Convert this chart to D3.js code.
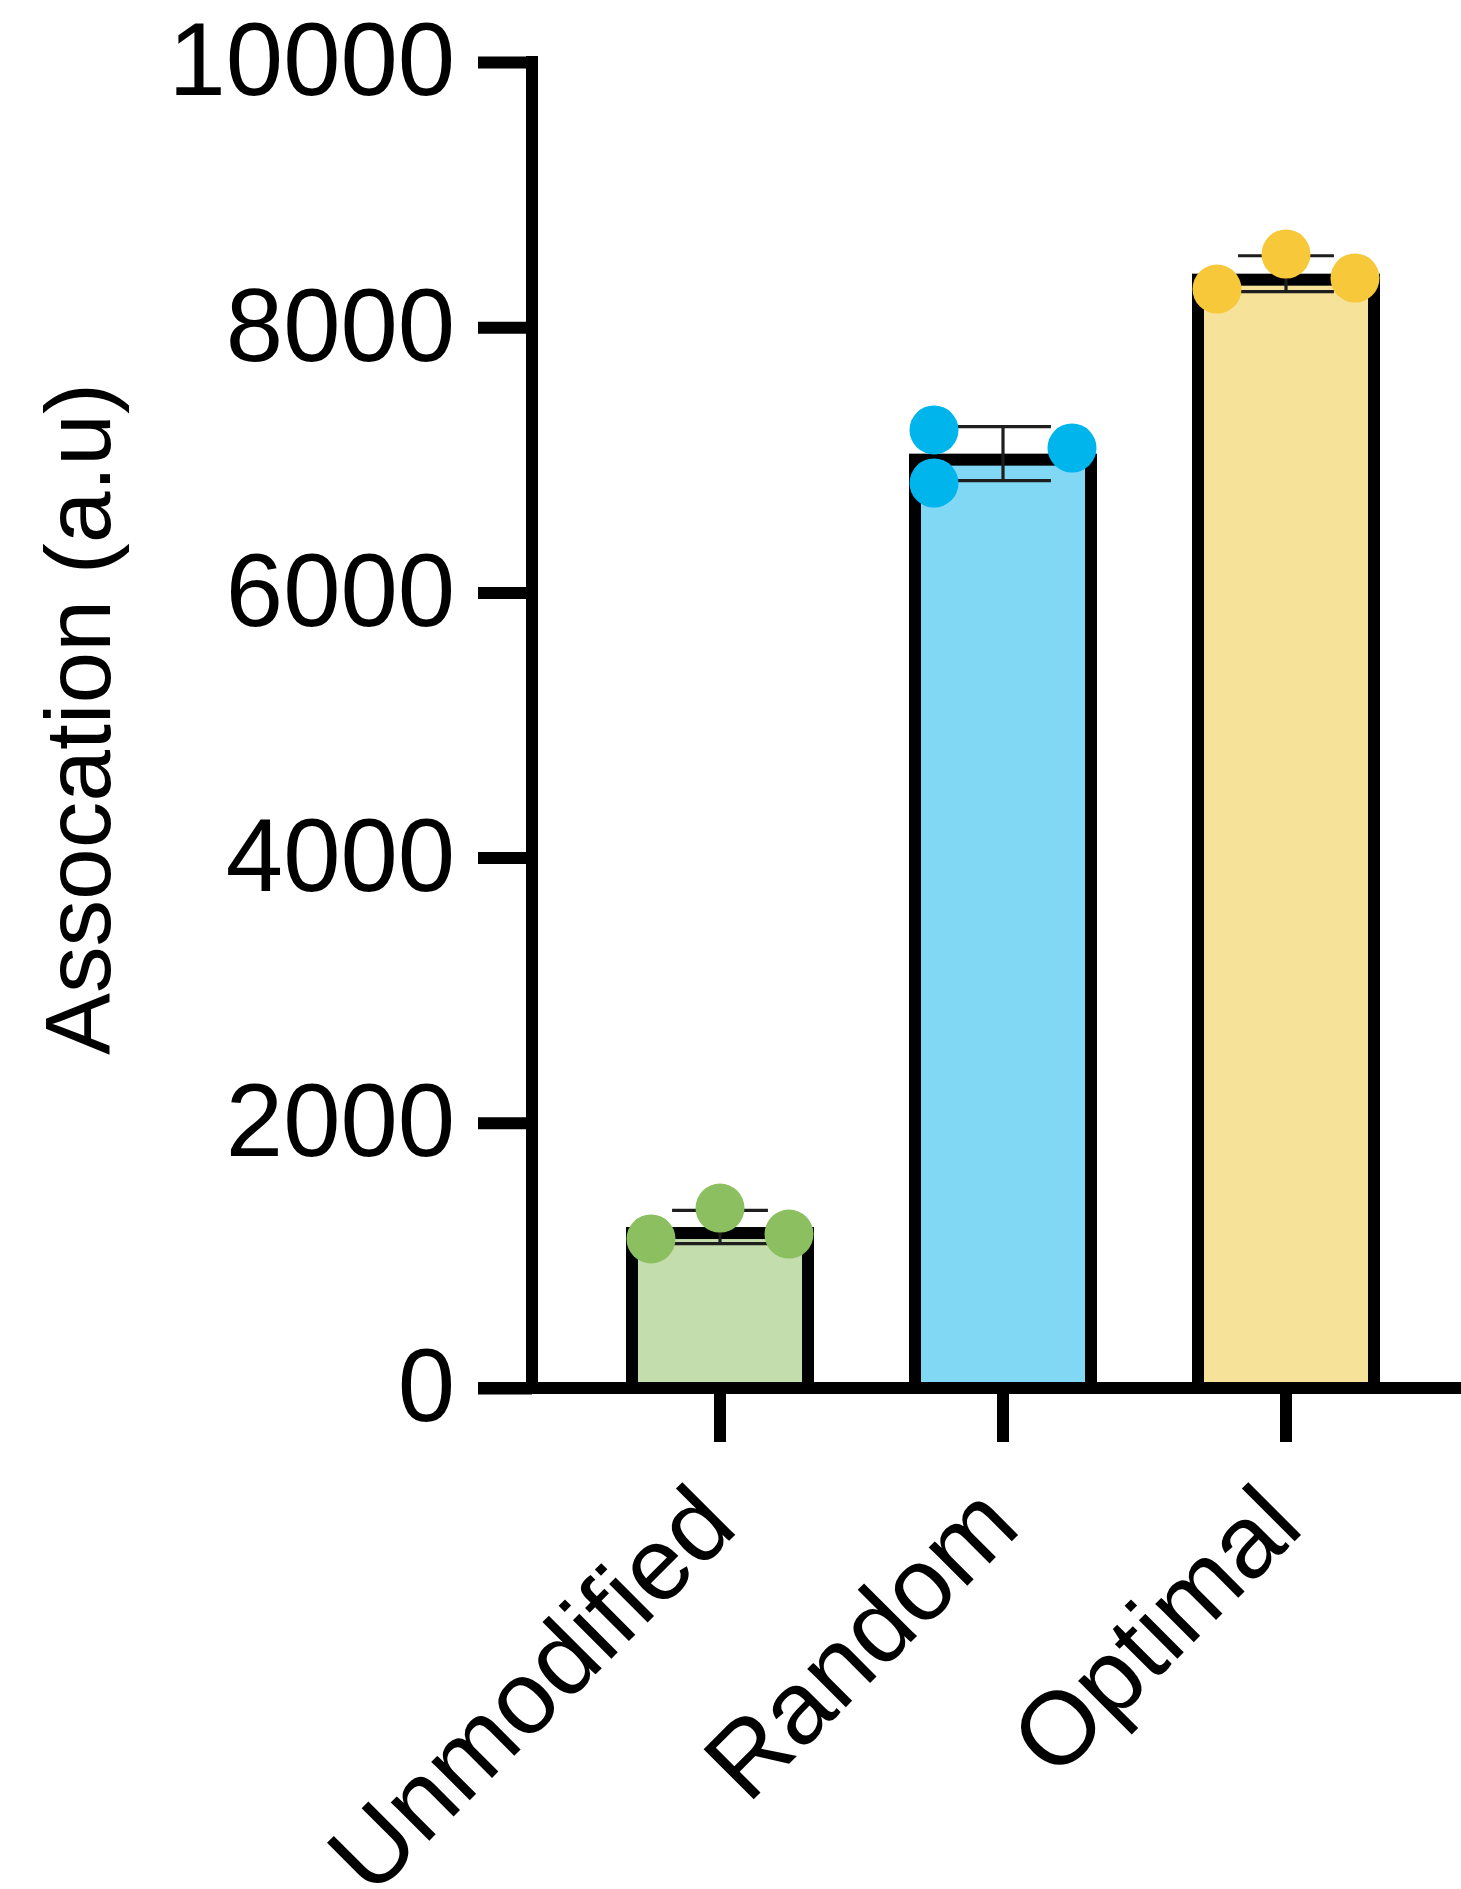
<!DOCTYPE html>
<html><head><meta charset="utf-8">
<script src="https://cdn.jsdelivr.net/npm/d3@7"></script>
<style>
body{margin:0;background:#fff}
svg{display:block}
text{font-family:"Liberation Sans",Arial,Helvetica,sans-serif;fill:#000}
</style>
</head><body>
<svg id="c" width="1461" height="1889"></svg>
<script>
// ---- data ----
const categories = ["Unmodified", "Random", "Optimal"];
const replicates = [
  [1124, 1357, 1161],
  [7225, 6825, 7089],
  [8288, 8552, 8371]
];
const dotSlots = [[-1, 0, 1], [-1, -1, 1], [-1, 0, 1]];
const barFills = ["#C4DDAC", "#80D8F5", "#F7E29A"];
const dotFills = ["#8BBF5F", "#00B4EC", "#F6C83A"];
const yTicks = [0, 2000, 4000, 6000, 8000, 10000];
const yLabel = "Assocation (a.u)";

// ---- layout ----
const W = 1461, H = 1889;
const axisX = 532, y0px = 1388, yTop = 62;
const lw = 12;
const svg = d3.select("#c");

const y = d3.scaleLinear().domain([0, 10000]).range([y0px, yTop]);
const x = d3.scaleBand().domain(categories).range([axisX - 1, axisX + 943]).paddingInner(0.3357).paddingOuter(0.3357);
const bw = x.bandwidth();

const groups = categories.map((c, i) => ({
  cat: c, i,
  vals: replicates[i],
  mean: d3.mean(replicates[i]),
  sd: d3.deviation(replicates[i])
}));

// bars
svg.append("g").selectAll("rect").data(groups).join("rect")
  .attr("x", d => x(d.cat) + lw / 2)
  .attr("width", bw - lw)
  .attr("y", d => y(d.mean) + lw / 2)
  .attr("height", d => y(0) - y(d.mean) - lw / 2)
  .attr("fill", d => barFills[d.i])
  .attr("stroke", "#000")
  .attr("stroke-width", lw);

// error bars
const eb = svg.append("g").attr("stroke", "#1e1e1e").attr("stroke-width", 3.2).attr("fill", "none");
groups.forEach(d => {
  const cx = x(d.cat) + bw / 2;
  const cap = bw * 0.255;
  const hi = y(d.mean + d.sd), lo = y(d.mean - d.sd);
  eb.append("line").attr("x1", cx).attr("x2", cx).attr("y1", hi).attr("y2", lo);
  eb.append("line").attr("x1", cx - cap).attr("x2", cx + cap).attr("y1", hi).attr("y2", hi);
  eb.append("line").attr("x1", cx - cap).attr("x2", cx + cap).attr("y1", lo).attr("y2", lo);
});

// y axis
const ya = svg.append("g").attr("transform", `translate(${axisX},0)`)
  .call(d3.axisLeft(y).tickValues(yTicks).tickFormat(d3.format("d")).tickSize(54).tickSizeOuter(0).tickPadding(23));
ya.select(".domain").remove();
ya.attr("font-family", null);
ya.selectAll(".tick line").attr("stroke", "#000").attr("stroke-width", lw);
ya.selectAll(".tick text").attr("font-size", 103).attr("fill", "#000");
svg.append("line").attr("x1", axisX).attr("x2", axisX)
  .attr("y1", y(10000) - lw / 2).attr("y2", y(0) + lw / 2)
  .attr("stroke", "#000").attr("stroke-width", lw);

// x axis
const xa = svg.append("g").attr("transform", `translate(0,${y0px})`)
  .call(d3.axisBottom(x).tickSize(54).tickSizeOuter(0));
xa.select(".domain").remove();
xa.attr("font-family", null);
xa.selectAll(".tick line").attr("stroke", "#000").attr("stroke-width", lw);
xa.selectAll(".tick text")
  .attr("font-size", 103).attr("fill", "#000")
  .attr("x", 20).attr("y", 142).attr("dy", 0)
  .attr("text-anchor", "end")
  .attr("transform", "rotate(-45,20,142)");
svg.append("line").attr("x1", axisX - 54).attr("x2", W)
  .attr("y1", y0px).attr("y2", y0px)
  .attr("stroke", "#000").attr("stroke-width", lw);

// dots
const pts = [];
groups.forEach(d => d.vals.forEach((v, j) => pts.push({ cat: d.cat, i: d.i, v, slot: dotSlots[d.i][j] })));
svg.append("g").selectAll("circle").data(pts).join("circle")
  .attr("cx", d => x(d.cat) + bw / 2 + d.slot * bw * 0.367)
  .attr("cy", d => y(d.v))
  .attr("r", 24.5)
  .attr("fill", d => dotFills[d.i]);

// y label
svg.append("text")
  .attr("transform", `translate(110,719) rotate(-90)`)
  .attr("text-anchor", "middle")
  .attr("font-size", 93)
  .text(yLabel);
</script>
</body></html>
